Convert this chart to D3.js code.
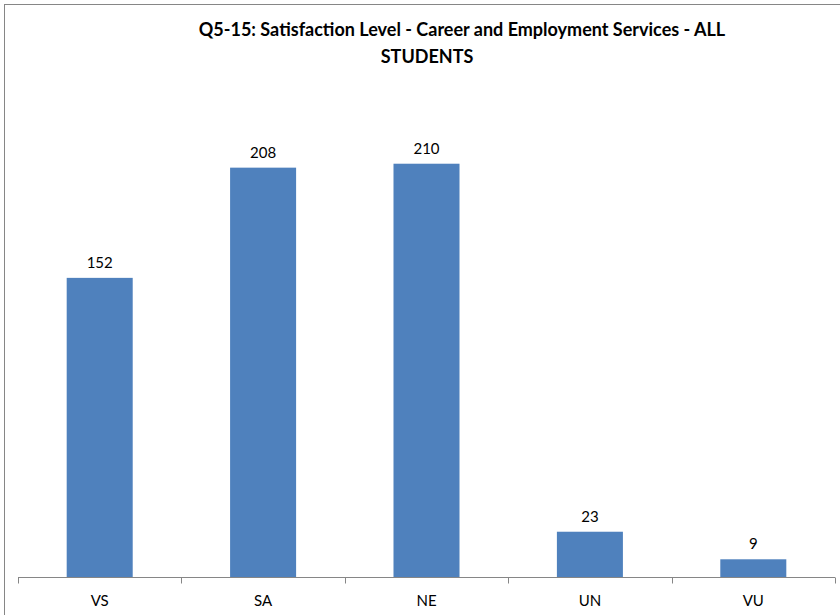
<!DOCTYPE html>
<html><head><meta charset="utf-8">
<script src="https://cdn.jsdelivr.net/npm/d3@7"></script>
<style>body{margin:0;background:#fff;} svg{display:block;}</style>
</head><body>
<svg id="c" width="840" height="615"></svg>
<script>
const categories = ["VS", "SA", "NE", "UN", "VU"];
const values = [152, 208, 210, 23, 9];
const titleLines = ["Q5-15: Satisfaction Level - Career and Employment Services - ALL", "STUDENTS"];

const svg = d3.select("#c");
const font = "Lato, 'Open Sans', sans-serif";

// frame
svg.append("rect").attr("x", 4.5).attr("y", 4.5).attr("width", 850).attr("height", 630)
  .attr("fill", "#fff").attr("stroke", "#868686").attr("stroke-width", 1);

const x = d3.scaleBand().domain(categories).range([18, 835]).padding(0);
const y = d3.scaleLinear().domain([0, 250]).range([577, 85]);
const barW = x.bandwidth() * 0.404;

svg.append("g").selectAll("rect").data(values).join("rect")
  .attr("x", (d, i) => x(categories[i]) + x.bandwidth() / 2 - barW / 2)
  .attr("y", d => y(d))
  .attr("width", barW)
  .attr("height", d => y(0) - y(d))
  .attr("fill", "#4F81BD");

svg.append("g").selectAll("text").data(values).join("text")
  .attr("x", (d, i) => x(categories[i]) + x.bandwidth() / 2)
  .attr("y", d => y(d) - 10)
  .attr("text-anchor", "middle")
  .attr("font-family", font).attr("font-size", 15).attr("fill", "#000")
  .text(d => d);

const axis = d3.axisBottom(x).tickSize(6).tickSizeOuter(0).tickPadding(10);
const gx = svg.append("g").attr("transform", "translate(0,577.5)").call(axis);
gx.select(".domain").attr("stroke", "#868686").attr("d", "M18,0H835");
gx.selectAll(".tick line").remove();
gx.selectAll(".tick text").attr("font-family", font).attr("font-size", 15).attr("fill", "#000").attr("dy", "0.85em");
// category boundary tick marks
const bounds = categories.map(c => x(c)).concat([x(categories[categories.length - 1]) + x.bandwidth()]);
gx.selectAll(".bt").data(bounds).join("line").attr("class", "bt")
  .attr("x1", d => Math.round(d) + 0.5).attr("x2", d => Math.round(d) + 0.5)
  .attr("y1", 0).attr("y2", 6).attr("stroke", "#868686");

svg.append("text").attr("x", 462).attr("y", 36).attr("text-anchor", "middle")
  .attr("font-family", font).attr("font-weight", "bold").attr("font-size", 18).attr("fill", "#000")
  .text(titleLines[0]);
svg.append("text").attr("x", 427).attr("y", 63).attr("text-anchor", "middle")
  .attr("font-family", font).attr("font-weight", "bold").attr("font-size", 18).attr("fill", "#000")
  .text(titleLines[1]);
</script>
</body></html>
